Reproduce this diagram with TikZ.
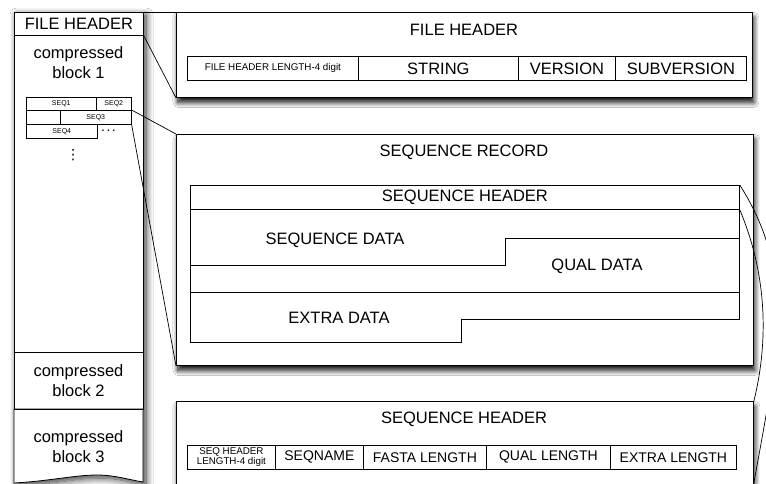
\documentclass[tikz,border=0pt]{standalone}
\usepackage{fontspec}
\setmainfont{Liberation Sans}
\newfontfamily\dejavu{DejaVu Sans}
\usetikzlibrary{shadows.blur}
\begin{document}
\begin{tikzpicture}[x=1pt,y=-1pt,
  big/.style={font=\fontsize{16.5}{20}\selectfont},
  mid/.style={font=\fontsize{14}{16}\selectfont},
  small/.style={font=\fontsize{9.8}{10}\selectfont},
  tiny/.style={font=\fontsize{7}{8}\selectfont},
  shade/.style={blur shadow={shadow xshift=1.5pt, shadow yshift=-5pt, shadow blur radius=5pt, shadow blur steps=10, shadow opacity=95}},
  cshade/.style={blur shadow={shadow xshift=3pt, shadow yshift=-3pt, shadow blur radius=7pt, shadow blur steps=10, shadow opacity=80}},
  bigbox/.style={draw, line width=0.9pt, fill=white, inner sep=0pt, anchor=north west, shade},
  cell/.style={draw, line width=0.8pt, inner sep=0pt, anchor=north west, align=center},
  tcell/.style={draw, line width=0.6pt, inner sep=0pt, anchor=north west, tiny},
  conn/.style={line width=0.7pt},
  lbl/.style={inner sep=0pt, big, align=center}
]
\clip (0,0) rectangle (766,484);
\fill[white] (0,0) rectangle (766,484);

% ---------- left column ----------
\path[fill=white, cshade] (14,12) -- (143,12) -- (143,482)
  .. controls (130,480) and (115,475) .. (97,475)
  .. controls (75,475) and (50,481) .. (14,483) -- cycle;
\node[cell, big, minimum width=129pt, minimum height=23pt] (lfh) at (14,12) {FILE HEADER};
\node[cell, minimum width=129pt, minimum height=317pt] (blk1) at (14,35) {};
\node[lbl] (t1) at (78.5,63) {compressed\\block 1};
\node[cell, minimum width=129pt, minimum height=57pt] (blk2) at (14,352) {};
\node[lbl] (t2) at (78.5,381) {compressed\\block 2};
\draw[line width=0.8pt] (14,409) -- (143,409) -- (143,482)
  .. controls (130,480) and (115,475) .. (97,475)
  .. controls (75,475) and (50,481) .. (14,483) -- cycle;
\node[lbl] (t3) at (78.5,447) {compressed\\block 3};

% sequence table
\node[tcell, minimum width=70pt, minimum height=13pt] (s1) at (26,97) {SEQ1};
\node[tcell, minimum width=35pt, minimum height=13pt] (s2) at (96,97) {SEQ2};
\node[tcell, minimum width=34pt, minimum height=14pt] (s0) at (26,110) {};
\node[tcell, minimum width=71pt, minimum height=14pt] (s3) at (60,110) {SEQ3};
\node[tcell, minimum width=71pt, minimum height=14pt] (s4) at (26,124) {SEQ4};
\node[inner sep=0pt, font=\fontsize{14}{14}\selectfont] (hd) at (108.5,131) {.\hspace{1.5pt}.\hspace{1.5pt}.};
\node[inner sep=0pt, font=\dejavu\fontsize{14}{14}\selectfont] (vd) at (73,155) {⋮};

% ---------- file header detail ----------
\node[bigbox, minimum width=576pt, minimum height=85pt] (fhd) at (176,12) {};
\node[lbl] (fht) at (464,30) {FILE HEADER};
\node[cell, small, minimum width=171pt, minimum height=24pt] (f1) at (187,56) {FILE HEADER LENGTH-4 digit};
\node[cell, big, minimum width=160pt, minimum height=24pt] (f2) at (358,56) {STRING};
\node[cell, big, minimum width=97pt, minimum height=24pt] (f3) at (518,56) {VERSION};
\node[cell, big, minimum width=131pt, minimum height=24pt] (f4) at (615,56) {SUBVERSION};

% ---------- sequence record ----------
\node[bigbox, minimum width=577pt, minimum height=231pt] (rec) at (176,134) {};
\node[lbl] (rect) at (464,152) {SEQUENCE RECORD};
\node[cell, big, minimum width=549pt, minimum height=24pt] (sh) at (190,185) {SEQUENCE HEADER};
\draw[line width=0.8pt] (190,209) -- (190,342) -- (461,342) -- (461,319) -- (739,319) -- (739,209);
\draw[line width=0.8pt] (190,265) -- (505,265) -- (505,238) -- (739,238);
\draw[line width=0.8pt] (190,292) -- (739,292);
\node[lbl] (sd) at (335,240) {SEQUENCE DATA};
\node[lbl] (qd) at (597,266) {QUAL DATA};
\node[lbl] (ed) at (339,318) {EXTRA DATA};

% ---------- sequence header detail ----------
\node[bigbox, minimum width=577pt, minimum height=120pt] (shd) at (176,401) {};
\node[lbl] (shdt) at (464,419) {SEQUENCE HEADER};
\node[cell, small, minimum width=88pt, minimum height=24pt] (h1) at (187,445) {SEQ HEADER\\LENGTH-4 digit};
\node[cell, mid, minimum width=88pt, minimum height=24pt] (h2) at (275,445) {SEQNAME};
\node[cell, mid, minimum width=123pt, minimum height=24pt] (h3) at (363,445) {FASTA LENGTH};
\node[cell, mid, minimum width=124pt, minimum height=24pt] (h4) at (486,445) {QUAL LENGTH};
\node[cell, mid, minimum width=126pt, minimum height=24pt] (h5) at (610,445) {EXTRA LENGTH};

% ---------- connectors ----------
\coordinate (shbr) at (750,505);
\draw[conn] (lfh.north east) -- (fhd.north west);
\draw[conn] (lfh.south east) -- (fhd.south west);
\draw[conn] (s3.north east) -- (rec.north west);
\draw[conn] (s3.south east) -- (rec.south west);
\draw[conn] (sh.south east) .. controls (765,270) and (770,335) .. (shd.north east);
\draw[conn] (sh.north east) .. controls (800,280) and (775,360) .. (shbr);
\end{tikzpicture}
\end{document}
